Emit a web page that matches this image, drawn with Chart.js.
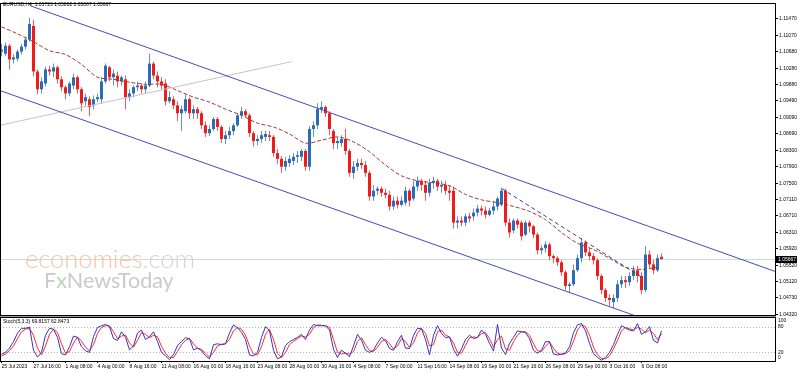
<!DOCTYPE html>
<html>
<head>
<meta charset="utf-8">
<title>EURUSD,H4</title>
<script src="https://cdn.jsdelivr.net/npm/chart.js@4.4.0/dist/chart.umd.min.js"></script>
<style>
  html, body { margin: 0; padding: 0; background: #fff; }
  #wrap { position: relative; width: 798px; height: 372px; }
  #wrap canvas { position: absolute; left: 0; top: 0; }
</style>
</head>
<body>
<div id="wrap">
  <canvas id="priceChart" width="798" height="372"></canvas>
  <canvas id="stochChart" width="798" height="372"></canvas>
</div>
<script>
// candles, one per 2 H4 bars, 25 Jul 2023 .. 6 Oct 2023
const opens = [
  1.1068, 1.1063, 1.1082, 1.1049, 1.1051, 1.1068, 1.1080, 1.1097, 1.1130, 1.1020,
  1.0977, 1.0991, 1.1025, 1.1020, 1.1030, 1.1001, 1.0982, 1.0967, 1.0986, 1.1006,
  1.0977, 1.0948, 1.0953, 1.0938, 1.0953, 1.0953, 1.0996, 1.1030, 1.1006, 1.1010,
  1.0996, 1.1001, 1.0958, 1.0967, 1.0982, 1.0986, 1.0977, 1.0986, 1.1039, 1.1010,
  1.0996, 1.0991, 1.0948, 1.0953, 1.0938, 1.0919, 1.0924, 1.0953, 1.0919, 1.0929,
  1.0919, 1.0890, 1.0871, 1.0881, 1.0905, 1.0886, 1.0857, 1.0866, 1.0876, 1.0890,
  1.0914, 1.0924, 1.0914, 1.0871, 1.0852, 1.0857, 1.0862, 1.0866, 1.0862, 1.0823,
  1.0809, 1.0790, 1.0799, 1.0804, 1.0814, 1.0814, 1.0828, 1.0790, 1.0881, 1.0890,
  1.0929, 1.0934, 1.0919, 1.0876, 1.0847, 1.0847, 1.0857, 1.0828, 1.0775, 1.0790,
  1.0799, 1.0794, 1.0775, 1.0718, 1.0732, 1.0737, 1.0727, 1.0722, 1.0694, 1.0708,
  1.0698, 1.0703, 1.0732, 1.0713, 1.0742, 1.0756, 1.0746, 1.0727, 1.0751, 1.0756,
  1.0742, 1.0746, 1.0732, 1.0732, 1.0655, 1.0660, 1.0655, 1.0670, 1.0670, 1.0679,
  1.0689, 1.0684, 1.0674, 1.0684, 1.0694, 1.0698, 1.0732, 1.0655, 1.0636, 1.0660,
  1.0655, 1.0626, 1.0655, 1.0646, 1.0626, 1.0588, 1.0593, 1.0602, 1.0574, 1.0569,
  1.0559, 1.0535, 1.0502, 1.0506, 1.0540, 1.0569, 1.0607, 1.0583, 1.0574, 1.0564,
  1.0526, 1.0492, 1.0473, 1.0463, 1.0473, 1.0506, 1.0516, 1.0511, 1.0526, 1.0540,
  1.0526, 1.0492, 1.0578, 1.0554, 1.0540, 1.05723
];
const highs = [
  1.1087, 1.1090, 1.1087, 1.1061, 1.1073, 1.1087, 1.1104, 1.1150, 1.1145, 1.1025,
  1.1006, 1.1032, 1.1034, 1.1039, 1.1034, 1.1008, 1.0986, 1.0996, 1.1015, 1.1010,
  1.0982, 1.0967, 1.0960, 1.0962, 1.0967, 1.1006, 1.1039, 1.1034, 1.1025, 1.1020,
  1.1010, 1.1010, 1.0977, 1.0986, 1.0996, 1.0991, 1.0996, 1.1063, 1.1044, 1.1020,
  1.1006, 1.1001, 1.0972, 1.0960, 1.0948, 1.0938, 1.0965, 1.0958, 1.0938, 1.0934,
  1.0924, 1.0900, 1.0890, 1.0910, 1.0910, 1.0890, 1.0876, 1.0886, 1.0895, 1.0919,
  1.0934, 1.0929, 1.0919, 1.0876, 1.0866, 1.0876, 1.0876, 1.0876, 1.0866, 1.0833,
  1.0816, 1.0814, 1.0818, 1.0823, 1.0828, 1.0833, 1.0833, 1.0888, 1.0900, 1.0943,
  1.0948, 1.0938, 1.0924, 1.0881, 1.0862, 1.0866, 1.0881, 1.0833, 1.0804, 1.0809,
  1.0809, 1.0804, 1.0780, 1.0746, 1.0742, 1.0742, 1.0737, 1.0732, 1.0718, 1.0718,
  1.0718, 1.0742, 1.0737, 1.0756, 1.0766, 1.0761, 1.0756, 1.0761, 1.0766, 1.0761,
  1.0756, 1.0756, 1.0746, 1.0742, 1.0670, 1.0670, 1.0677, 1.0679, 1.0689, 1.0698,
  1.0696, 1.0694, 1.0691, 1.0708, 1.0718, 1.0739, 1.0737, 1.0665, 1.0665, 1.0665,
  1.0660, 1.0660, 1.0660, 1.0650, 1.0631, 1.0600, 1.0610, 1.0607, 1.0578, 1.0574,
  1.0564, 1.0540, 1.0511, 1.0554, 1.0578, 1.0617, 1.0612, 1.0593, 1.0581, 1.0569,
  1.0530, 1.0497, 1.0482, 1.0482, 1.0516, 1.0526, 1.0526, 1.0535, 1.0550, 1.0550,
  1.0535, 1.0598, 1.0588, 1.0564, 1.0578, 1.05802
];
const lows = [
  1.1056, 1.1058, 1.1025, 1.1039, 1.1044, 1.1061, 1.1073, 1.1092, 1.1008, 1.0965,
  1.0967, 1.0984, 1.1010, 1.1006, 1.0991, 1.0972, 1.0953, 1.0960, 1.0977, 1.0967,
  1.0924, 1.0938, 1.0912, 1.0929, 1.0946, 1.0943, 1.0991, 1.0996, 1.0986, 1.0982,
  1.0986, 1.0929, 1.0948, 1.0958, 1.0972, 1.0967, 1.0967, 1.0982, 1.1001, 1.0982,
  1.0977, 1.0938, 1.0943, 1.0929, 1.0900, 1.0876, 1.0919, 1.0905, 1.0905, 1.0905,
  1.0881, 1.0862, 1.0864, 1.0876, 1.0876, 1.0847, 1.0845, 1.0857, 1.0866, 1.0886,
  1.0905, 1.0910, 1.0862, 1.0838, 1.0842, 1.0847, 1.0852, 1.0852, 1.0814, 1.0797,
  1.0775, 1.0780, 1.0790, 1.0794, 1.0799, 1.0804, 1.0780, 1.0780, 1.0862, 1.0881,
  1.0919, 1.0910, 1.0866, 1.0833, 1.0833, 1.0838, 1.0818, 1.0766, 1.0761, 1.0780,
  1.0785, 1.0766, 1.0708, 1.0708, 1.0722, 1.0718, 1.0713, 1.0684, 1.0686, 1.0689,
  1.0694, 1.0696, 1.0694, 1.0708, 1.0732, 1.0732, 1.0708, 1.0718, 1.0737, 1.0732,
  1.0727, 1.0722, 1.0708, 1.0641, 1.0641, 1.0646, 1.0646, 1.0655, 1.0660, 1.0670,
  1.0672, 1.0665, 1.0670, 1.0674, 1.0684, 1.0694, 1.0646, 1.0619, 1.0629, 1.0641,
  1.0612, 1.0622, 1.0631, 1.0617, 1.0578, 1.0578, 1.0583, 1.0564, 1.0557, 1.0550,
  1.0526, 1.0492, 1.0485, 1.0502, 1.0535, 1.0559, 1.0574, 1.0564, 1.0554, 1.0516,
  1.0482, 1.0463, 1.0454, 1.0449, 1.0463, 1.0497, 1.0497, 1.0502, 1.0516, 1.0511,
  1.0482, 1.0487, 1.0545, 1.0530, 1.0535, 1.05667
];
const closes = [
  1.1073, 1.1082, 1.1049, 1.1054, 1.1068, 1.1080, 1.1097, 1.1135, 1.1020, 1.0977,
  1.0996, 1.1025, 1.1020, 1.1030, 1.1001, 1.0982, 1.0967, 1.0991, 1.1006, 1.0977,
  1.0943, 1.0958, 1.0934, 1.0953, 1.0958, 1.0996, 1.1034, 1.1006, 1.1015, 1.0996,
  1.1006, 1.0958, 1.0967, 1.0982, 1.0986, 1.0977, 1.0986, 1.1039, 1.1010, 1.0996,
  1.0986, 1.0948, 1.0958, 1.0938, 1.0919, 1.0929, 1.0953, 1.0919, 1.0929, 1.0919,
  1.0890, 1.0871, 1.0881, 1.0905, 1.0886, 1.0857, 1.0866, 1.0876, 1.0890, 1.0914,
  1.0924, 1.0914, 1.0871, 1.0852, 1.0857, 1.0866, 1.0869, 1.0862, 1.0823, 1.0809,
  1.0790, 1.0804, 1.0809, 1.0814, 1.0818, 1.0828, 1.0790, 1.0881, 1.0890, 1.0929,
  1.0934, 1.0919, 1.0881, 1.0847, 1.0852, 1.0857, 1.0828, 1.0775, 1.0790, 1.0799,
  1.0794, 1.0775, 1.0718, 1.0732, 1.0737, 1.0727, 1.0722, 1.0694, 1.0708, 1.0698,
  1.0708, 1.0732, 1.0708, 1.0742, 1.0756, 1.0746, 1.0727, 1.0751, 1.0756, 1.0742,
  1.0746, 1.0732, 1.0727, 1.0655, 1.0660, 1.0655, 1.0670, 1.0665, 1.0679, 1.0689,
  1.0684, 1.0674, 1.0684, 1.0694, 1.0713, 1.0732, 1.0655, 1.0631, 1.0660, 1.0650,
  1.0622, 1.0655, 1.0646, 1.0626, 1.0588, 1.0593, 1.0602, 1.0574, 1.0569, 1.0559,
  1.0535, 1.0502, 1.0506, 1.0540, 1.0569, 1.0607, 1.0583, 1.0574, 1.0564, 1.0526,
  1.0492, 1.0473, 1.0468, 1.0473, 1.0506, 1.0516, 1.0511, 1.0526, 1.0540, 1.0526,
  1.0492, 1.0578, 1.0554, 1.0540, 1.0569, 1.05667
];

// moving average, read every 4th candle
const maValues = [
  1.1128, 1.1111, 1.1092, 1.1070, 1.1061, 1.1037, 1.1006, 1.1001, 1.0994, 1.0989,
  1.0989, 1.0974, 1.0958, 1.0946, 1.0929, 1.0914, 1.0895, 1.0886, 1.0869, 1.0847,
  1.0854, 1.0862, 1.0850, 1.0826, 1.0794, 1.0768, 1.0756, 1.0751, 1.0744, 1.0723,
  1.0710, 1.0703, 1.0694, 1.0682, 1.0662, 1.0631, 1.0605, 1.0590, 1.0569, 1.0547,
  1.0542, 1.0547
];

// trend lines drawn on the chart: [candle index, price]
const upperChannel = [[7.1, 1.1179], [193.4, 1.0537]];
const lowerChannel = [[-0.4, 1.0974], [159.6, 1.0426]];
const grayLine = [[-0.4, 1.0890], [72.6, 1.1044]];
const dashedTrend = [[125.1, 1.0737], [160.4, 1.0521]];

// Stoch(5,3,3)
const stochMain = [
  16, 20, 30, 45, 65, 76, 76, 79, 25, 9,
  20, 60, 76, 74, 55, 17, 14, 33, 58, 55,
  33, 24, 20, 57, 78, 82, 85, 80, 52, 48,
  68, 55, 26, 35, 65, 72, 50, 56, 68, 45,
  20, 12, 3, 15, 36, 45, 54, 52, 26, 30,
  24, 12, 5, 38, 40, 38, 40, 65, 84, 77,
  67, 50, 14, 12, 20, 55, 80, 70, 25, 5,
  10, 36, 45, 50, 55, 62, 50, 72, 85, 82,
  82, 82, 72, 27, 8, 25, 18, 10, 35, 62,
  48, 25, 20, 25, 42, 55, 47, 29, 25, 45,
  60, 30, 29, 60, 76, 75, 50, 14, 60, 82,
  64, 54, 56, 27, 11, 28, 50, 60, 52, 55,
  72, 62, 41, 23, 85, 30, 15, 41, 55, 70,
  68, 66, 52, 25, 18, 25, 45, 45, 16, 14,
  16, 19, 33, 66, 84, 87, 70, 41, 17, 8,
  2, 8, 20, 38, 62, 82, 77, 72, 70, 87,
  62, 68, 80, 48, 42, 69.8157
];
const stochSignal = [
  12, 16, 24, 35, 52, 68, 74, 76, 60, 30,
  14, 35, 62, 74, 66, 40, 18, 22, 42, 56,
  46, 32, 24, 38, 64, 78, 82, 82, 68, 52,
  58, 60, 42, 32, 48, 66, 62, 54, 60, 56,
  34, 18, 8, 8, 22, 38, 48, 52, 40, 30,
  27, 18, 9, 20, 35, 39, 40, 50, 70, 78,
  74, 60, 35, 16, 14, 33, 62, 74, 50, 18,
  8, 20, 38, 46, 52, 58, 56, 62, 78, 84,
  83, 82, 78, 50, 20, 16, 18, 16, 22, 45,
  54, 38, 24, 22, 32, 46, 50, 40, 28, 35,
  52, 45, 32, 42, 65, 76, 64, 35, 38, 68,
  72, 60, 56, 42, 20, 18, 36, 54, 56, 54,
  64, 66, 52, 32, 50, 58, 28, 25, 45, 60,
  68, 68, 60, 40, 24, 22, 34, 44, 30, 18,
  15, 17, 24, 46, 72, 84, 80, 60, 32, 14,
  6, 5, 12, 28, 48, 70, 78, 75, 72, 78,
  74, 66, 72, 64, 50, 62.8473
];

const priceTicks = [
  1.11470, 1.11070, 1.10680, 1.10280, 1.09880, 1.09490, 1.09090, 1.08690, 1.08300, 1.07900,
  1.07500, 1.07110, 1.06710, 1.06310, 1.05920, 1.05520, 1.05120, 1.04730, 1.04320
];
const stochTicks = [0, 20, 80, 100];
const timeTickIdx = [0, 8, 16, 24, 32, 40, 48, 56, 64, 72, 80, 88, 96, 104, 112, 120, 128, 136, 144, 152, 160];
const timeLabels = [
  "25 Jul 2023", "27 Jul 16:00", "1 Aug 08:00", "4 Aug 00:00", "8 Aug 16:00", "11 Aug 08:00",
  "16 Aug 00:00", "18 Aug 16:00", "23 Aug 08:00", "28 Aug 00:00", "30 Aug 16:00", "4 Sep 08:00",
  "7 Sep 00:00", "11 Sep 16:00", "14 Sep 08:00", "19 Sep 00:00", "21 Sep 16:00", "26 Sep 08:00",
  "29 Sep 00:00", "3 Oct 16:00", "6 Oct 08:00"
];

const xMin = -0.375;
const xMax = 193.375;
const priceMin = 1.04318;
const priceMax = 1.11830;

const UP = "#2B6CB8";
const DOWN = "#F01C1C";
const FONT = '"Liberation Sans", Arial, sans-serif';

Chart.defaults.font.family = FONT;

const toPts = arr => arr.map(p => ({ x: p[0], y: p[1] }));
const isUp = i => closes[i] >= opens[i];

function lineSet(points, color, dash) {
  return {
    type: "line",
    data: toPts(points),
    borderColor: color,
    borderWidth: 1,
    borderDash: dash || [],
    pointRadius: 0,
    tension: 0
  };
}

const mainDecor = {
  id: "mainDecor",
  beforeDatasetsDraw(chart) {
    const { ctx, chartArea: a, scales: { y } } = chart;
    const yl = Math.round(y.getPixelForValue(closes[closes.length - 1])) + 0.5;
    ctx.save();
    ctx.strokeStyle = "#C4DDE1";
    ctx.lineWidth = 1;
    ctx.beginPath();
    ctx.moveTo(a.left, yl);
    ctx.lineTo(a.right, yl);
    ctx.stroke();

    // watermark
    ctx.textBaseline = "alphabetic";
    ctx.font = "300 20px Lato, " + FONT;
    let size = 20 * 170 / ctx.measureText("economies.com").width;
    ctx.font = "300 " + size + "px Lato, " + FONT;
    ctx.fillStyle = "#F6C6A2";
    ctx.fillText("economies", 25, 268);
    const w1 = ctx.measureText("economies").width;
    ctx.fillStyle = "#D5D5D5";
    ctx.fillText(".com", 25 + w1, 268);

    ctx.font = "20px Lato, " + FONT;
    size = 20 * 129 / ctx.measureText("FxNewsToday").width;
    ctx.font = size + "px Lato, " + FONT;
    let x = 44;
    ctx.fillStyle = "#CACACA";
    ctx.fillText("F", x, 288);
    x += ctx.measureText("F").width;
    ctx.fillStyle = "#B5D9AE";
    ctx.fillText("x", x, 288);
    x += ctx.measureText("x").width;
    ctx.fillStyle = "#CACACA";
    ctx.fillText("NewsToday", x, 288);
    ctx.restore();
  },
  afterDraw(chart) {
    const { ctx, chartArea: a, scales: { y } } = chart;
    ctx.save();
    ctx.strokeStyle = "#000";
    ctx.lineWidth = 1;
    ctx.strokeRect(a.left + 0.5, a.top - 0.5, a.right - a.left, a.bottom - a.top + 1);
    ctx.fillStyle = "#9A9A9A";
    ctx.fillRect(a.left, a.bottom + 1, a.right - a.left + 1, 1);

    ctx.fillStyle = "#000";
    ctx.font = "5px " + FONT;
    ctx.textBaseline = "middle";
    ctx.fillText("EURUSD,H4  1.05723 1.05802 1.05667 1.05667", 3, 5);

    const last = closes[closes.length - 1];
    const yl = Math.round(y.getPixelForValue(last));
    ctx.fillStyle = "#000";
    ctx.fillRect(a.right + 1, yl - 3, 21, 7);
    ctx.fillStyle = "#fff";
    ctx.fillText(last.toFixed(5), a.right + 3, yl + 0.5);
    ctx.restore();
  }
};

new Chart(document.getElementById("priceChart"), {
  type: "bar",
  data: {
    datasets: [
      lineSet(upperChannel, "#4848BE"),
      lineSet(lowerChannel, "#4848BE"),
      lineSet(grayLine, "#C4C4C4"),
      lineSet(dashedTrend, "#3A3A9E", [4, 3]),
      {
        type: "line",
        data: maValues.map((v, k) => ({ x: k * 4, y: v })),
        borderColor: "#A33A2C",
        borderWidth: 1,
        borderDash: [4, 2],
        pointRadius: 0,
        tension: 0.3
      },
      {
        data: closes.map((c, i) => ({ x: i, y: [opens[i], c] })),
        backgroundColor: ctx => (isUp(ctx.dataIndex) ? UP : DOWN),
        barThickness: 3,
        minBarLength: 1,
        inflateAmount: 0,
        grouped: false
      },
      {
        data: closes.map((c, i) => ({ x: i, y: [lows[i], highs[i]] })),
        backgroundColor: ctx => (isUp(ctx.dataIndex) ? "#5E93CE" : "#FF5555"),
        barThickness: 1,
        inflateAmount: 0,
        grouped: false
      }
    ]
  },
  options: {
    responsive: false,
    animation: false,
    events: [],
    layout: { padding: { top: 2, left: 0, right: 0, bottom: 57 } },
    plugins: { legend: { display: false }, tooltip: { enabled: false } },
    scales: {
      x: {
        type: "linear",
        min: xMin,
        max: xMax,
        offset: false,
        display: false
      },
      y: {
        type: "linear",
        position: "right",
        min: priceMin,
        max: priceMax,
        afterFit(s) { s.width = 23; },
        afterBuildTicks(s) { s.ticks = priceTicks.map(v => ({ value: v })); },
        border: { display: false },
        grid: { drawOnChartArea: false, drawTicks: true, tickLength: 3, color: "#000" },
        ticks: {
          color: "#000",
          padding: 1,
          font: { size: 5 },
          callback: v => v.toFixed(5)
        }
      }
    }
  },
  plugins: [mainDecor]
});

const stochDecor = {
  id: "stochDecor",
  beforeDatasetsDraw(chart) {
    const { ctx, chartArea: a, scales: { y } } = chart;
    ctx.save();
    ctx.strokeStyle = "#B0B0B0";
    ctx.lineWidth = 1;
    ctx.setLineDash([1, 2]);
    [20, 80].forEach(v => {
      const yy = Math.round(y.getPixelForValue(v)) + 0.5;
      ctx.beginPath();
      ctx.moveTo(a.left, yy);
      ctx.lineTo(a.right, yy);
      ctx.stroke();
    });
    ctx.restore();
  },
  afterDraw(chart) {
    const { ctx, chartArea: a, scales: { y } } = chart;
    ctx.save();
    ctx.strokeStyle = "#000";
    ctx.lineWidth = 1;
    ctx.strokeRect(a.left + 0.5, a.top - 0.5, a.right - a.left, a.bottom - a.top + 1);
    ctx.fillStyle = "#000";
    ctx.font = "5px " + FONT;
    ctx.textBaseline = "middle";
    ctx.fillText("Stoch(5,3,3) 69.8157 62.8473", 3, 322);

    // level labels kept inside the panel, as the terminal does
    stochTicks.forEach(v => {
      let yy = y.getPixelForValue(v);
      yy = Math.min(Math.max(yy, a.top + 3), a.bottom - 3);
      ctx.fillText(String(v), a.right + 3, yy);
    });
    ctx.restore();
  }
};

new Chart(document.getElementById("stochChart"), {
  type: "line",
  data: {
    datasets: [
      {
        data: stochMain.map((v, i) => ({ x: i, y: v })),
        borderColor: "#3535C0",
        borderWidth: 1,
        pointRadius: 0,
        tension: 0
      },
      {
        data: stochSignal.map((v, i) => ({ x: i, y: v })),
        borderColor: "#FF2A2A",
        borderWidth: 1,
        pointRadius: 0,
        tension: 0
      }
    ]
  },
  options: {
    responsive: false,
    animation: false,
    events: [],
    layout: { padding: { top: 318, left: 0, right: 0, bottom: 0 } },
    plugins: { legend: { display: false }, tooltip: { enabled: false } },
    scales: {
      x: {
        type: "linear",
        min: xMin,
        max: xMax,
        offset: false,
        afterFit(s) { s.height = 11; },
        afterBuildTicks(s) { s.ticks = timeTickIdx.map(v => ({ value: v })); },
        border: { display: false },
        grid: { drawOnChartArea: false, drawTicks: true, tickLength: 2, color: "#000" },
        ticks: {
          color: "#000",
          padding: 1,
          align: "start",
          autoSkip: false,
          maxRotation: 0,
          font: { size: 5 },
          callback: (v, i) => timeLabels[i]
        }
      },
      y: {
        type: "linear",
        position: "right",
        min: 0,
        max: 100,
        afterFit(s) { s.width = 23; },
        afterBuildTicks(s) { s.ticks = stochTicks.map(v => ({ value: v })); },
        border: { display: false },
        grid: { display: false },
        ticks: { display: false }
      }
    }
  },
  plugins: [stochDecor]
});
</script>
</body>
</html>
